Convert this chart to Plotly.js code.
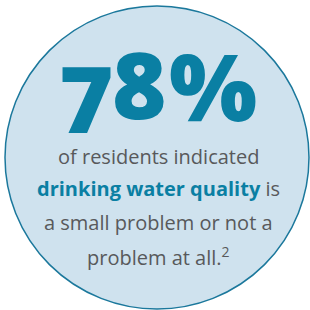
<!DOCTYPE html>
<html>
<head>
<meta charset="utf-8">
<script src="https://cdn.plot.ly/plotly-3.0.1.min.js"></script>
<style>html,body{margin:0;padding:0;background:#fff;}#chart{width:310px;height:310px;}</style>
</head>
<body>
<div id="chart"></div>
<script>
// Data
var statValue = [78];
var statUnit = ["%"];
var bodyLines = [
  "of residents indicated",
  "<b><span style=\"color:#0a7fa3\">drinking water quality</span></b> is",
  "a small problem or not a",
  "problem at all.<sup>2</sup>"
];

var blue = "#0a7fa3";
var gray = "#58595b";

var bigChars = String(statValue[0]).split("").concat(statUnit);
// per-glyph placement (original artwork has a stepped baseline)
var bigPos = [
  {x: 86, y: 97},
  {x: 139, y: 83},
  {x: 213, y: 85}
];
var lineY = [156, 188, 222, 256];

var annotations = [];
bigChars.forEach(function (c, i) {
  annotations.push({
    x: bigPos[i].x, y: bigPos[i].y, xref: "x", yref: "y",
    text: c, showarrow: false,
    xanchor: "center", yanchor: "middle",
    font: {family: "Open Sans, sans-serif", size: 93, weight: 800, color: blue}
  });
});
bodyLines.forEach(function (t, i) {
  annotations.push({
    x: 158, y: lineY[i], xref: "x", yref: "y",
    text: t, showarrow: false,
    xanchor: "center", yanchor: "middle",
    font: {family: "Open Sans, sans-serif", size: 20, color: gray}
  });
});

var layout = {
  width: 310, height: 310,
  margin: {l: 0, r: 0, t: 0, b: 0},
  paper_bgcolor: "#ffffff", plot_bgcolor: "#ffffff",
  showlegend: false,
  xaxis: {range: [0, 310], visible: false, fixedrange: true},
  yaxis: {range: [310, 0], visible: false, fixedrange: true},
  shapes: [{
    type: "circle", xref: "x", yref: "y",
    x0: 5, x1: 309, y0: 6, y1: 309,
    fillcolor: "#cfe2ee",
    line: {color: "#1b789c", width: 1.5},
    layer: "below"
  }],
  annotations: annotations
};

Plotly.newPlot("chart", [], layout, {staticPlot: true, displayModeBar: false});
</script>
</body>
</html>
